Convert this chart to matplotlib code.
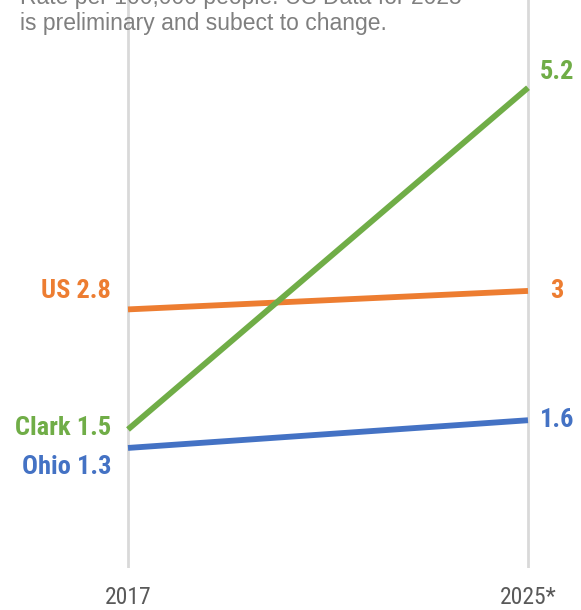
import matplotlib
matplotlib.use("Agg")
import matplotlib.pyplot as plt
from matplotlib import font_manager

years = ["2017", "2025*"]
series = ["US", "Clark", "Ohio"]
us = [2.8, 3.0]
clark = [1.5, 5.2]
ohio = [1.3, 1.6]
right_labels = ["3", "5.2", "1.6"]
colors = {"US": "#ED7D31", "Clark": "#70AD47", "Ohio": "#4472C4"}

names = {f.name for f in font_manager.fontManager.ttflist}
narrow = "Liberation Sans Narrow" if "Liberation Sans Narrow" in names else "Roboto Condensed" if "Roboto Condensed" in names else "Liberation Sans"

fig = plt.figure(figsize=(5.81, 6.10), dpi=100)
ax = fig.add_axes([0, 42/610, 1, 568/610])
ax.set_xlim(-0.32, 1.1325)
ax.set_ylim(0, 6.15)
ax.axis("off")

for xi in range(len(years)):
    ax.axvline(xi, color="#d9d9d9", lw=2, zorder=0)
    ax.text(xi, -0.2, years[xi], ha="center", va="top", fontsize=17,
            family=narrow, color="#595959")

data = {"US": us, "Clark": clark, "Ohio": ohio}
left_off = {"US": 13, "Clark": 1, "Ohio": -14}
right_off = {"US": 0, "Clark": 11, "Ohio": 0}
for i, s in enumerate(series):
    v = data[s]
    ax.plot([0, 1], v, color=colors[s], lw=4.2, solid_capstyle="butt", zorder=3)
    ax.annotate(f"{s} {v[0]:g}", (0, v[0]), xytext=(-12, left_off[s]),
                textcoords="offset points", ha="right", va="center",
                fontsize=19, fontweight="bold", family=narrow, color=colors[s])
    ax.annotate(right_labels[i], (1, v[1]), xytext=(21, right_off[s]),
                textcoords="offset points", ha="center", va="center",
                fontsize=19, fontweight="bold", family=narrow, color=colors[s])

fig.text(20/581, 1 - 4/610, "Rate per 100,000 people. US Data for 2025",
         ha="left", va="baseline", fontsize=16.5, family="Liberation Sans", color="#7f7f7f")
fig.text(20/581, 1 - 30/610, "is preliminary and subect to change.",
         ha="left", va="baseline", fontsize=16.5, family="Liberation Sans", color="#7f7f7f")

fig.savefig("out.png", dpi=100)
